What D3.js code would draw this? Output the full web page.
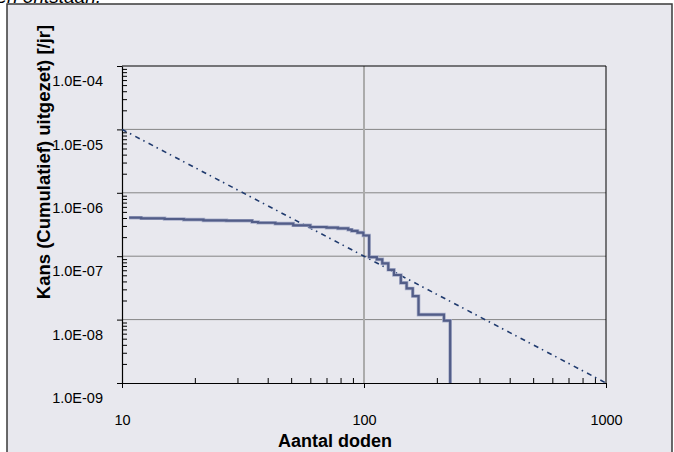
<!DOCTYPE html>
<html>
<head>
<meta charset="utf-8">
<script src="https://cdn.jsdelivr.net/npm/d3@7"></script>
<style>
  html, body { margin: 0; padding: 0; background: #ffffff; }
  svg { display: block; }
  text { font-family: "Liberation Sans", Arial, sans-serif; }
</style>
</head>
<body>
<svg id="chart" width="674" height="452"></svg>
<script>
// ---- data ----
const stepN = [10.7, 12, 15, 18, 21.7, 27, 34.5, 36.5, 43, 51, 60, 70, 78, 86, 89, 94, 99.4, 105, 113, 119, 126, 133, 142, 150, 159, 168, 214, 227];
const stepP = [4.05e-7, 3.96e-7, 3.86e-7, 3.77e-7, 3.68e-7, 3.63e-7, 3.46e-7, 3.37e-7, 3.26e-7, 3.07e-7, 2.89e-7, 2.82e-7, 2.75e-7, 2.62e-7, 2.5e-7, 2.35e-7, 2.12e-7, 9.7e-8, 8.9e-8, 7.7e-8, 6.1e-8, 5.05e-8, 3.8e-8, 3.1e-8, 2.35e-8, 1.2e-8, 9.6e-9, 1e-9];
const normN = [10, 1000];
const normP = [1e-5, 1e-9];
const xTicks = [10, 100, 1000];
const xTickLabels = ["10", "100", "1000"];
const yTicks = [1e-4, 1e-5, 1e-6, 1e-7, 1e-8, 1e-9];
const yTickLabels = ["1.0E-04", "1.0E-05", "1.0E-06", "1.0E-07", "1.0E-08", "1.0E-09"];
const xTitle = "Aantal doden";
const yTitle = "Kans (Cumulatief) uitgezet) [/jr]";
const topText = "kunnen ontstaan.";

// ---- layout ----
const svg = d3.select("#chart");
const L = 122, R = 606, T = 66, B = 383;
const x = d3.scaleLog().domain([10, 1000]).range([L, R]);
const y = d3.scaleLog().domain([1e-9, 1e-4]).range([B, T]);

// frame
svg.append("rect").attr("x", 0).attr("y", 0).attr("width", 674).attr("height", 452).attr("fill", "#ffffff");
svg.append("rect").attr("x", 7).attr("y", 4).attr("width", 665).attr("height", 460)
  .attr("fill", "#e8e8ee").attr("stroke", "#3a3a3a").attr("stroke-width", 1.5);
svg.append("text").attr("x", 101).attr("y", 3).attr("text-anchor", "end")
  .attr("font-size", 19).attr("font-style", "italic").attr("fill", "#000").text(topText);

// gridlines
const gy = yTicks.filter(v => v < 1e-4 && v > 1e-9);
svg.append("g").selectAll("line").data(gy).join("line")
  .attr("x1", L).attr("x2", R).attr("y1", d => y(d)).attr("y2", d => y(d))
  .attr("stroke", "#858585").attr("stroke-width", 1);
svg.append("line").attr("x1", x(100)).attr("x2", x(100)).attr("y1", T).attr("y2", B)
  .attr("stroke", "#ababab").attr("stroke-width", 2);

// plot border (top, right)
svg.append("path").attr("d", `M${L},${T}H${R}V${B}`).attr("fill", "none").attr("stroke", "#000").attr("stroke-width", 1);

// minor ticks
const xMinor = [];
[10, 100].forEach(b => { for (let k = 2; k <= 9; k++) xMinor.push(b * k); });
const yMinor = [];
[1e-9, 1e-8, 1e-7, 1e-6, 1e-5].forEach(b => { for (let k = 2; k <= 9; k++) yMinor.push(b * k); });

const xMinorAxis = d3.axisBottom(x).tickValues(xMinor).tickSize(-5).tickFormat("");
svg.append("g").attr("transform", `translate(0,${B})`).call(xMinorAxis)
  .call(g => g.select(".domain").remove())
  .selectAll("line").attr("stroke", "#000");
const yMinorAxis = d3.axisLeft(y).tickValues(yMinor).tickSize(-5).tickFormat("");
svg.append("g").attr("transform", `translate(${L},0)`).call(yMinorAxis)
  .call(g => g.select(".domain").remove())
  .selectAll("line").attr("stroke", "#000");

// major axes
const xAxis = d3.axisBottom(x).tickValues(xTicks).tickSizeInner(5).tickSizeOuter(0).tickPadding(27)
  .tickFormat((d, i) => xTickLabels[i]);
const gx = svg.append("g").attr("transform", `translate(0,${B})`).call(xAxis);
gx.select(".domain").attr("stroke", "#000").attr("stroke-width", 1.2);
gx.selectAll("line").attr("stroke", "#000");
gx.selectAll("text").attr("font-size", 14.5).attr("fill", "#000").attr("font-family", "Liberation Sans, Arial, sans-serif");

const yAxis = d3.axisLeft(y).tickValues(yTicks).tickSizeInner(5).tickSizeOuter(0).tickPadding(14)
  .tickFormat((d, i) => yTickLabels[i]);
const gyA = svg.append("g").attr("transform", `translate(${L},0)`).call(yAxis);
gyA.select(".domain").attr("stroke", "#000").attr("stroke-width", 1.2);
gyA.selectAll("line").attr("stroke", "#000");
gyA.selectAll("text").attr("font-size", 14.5).attr("fill", "#000").attr("y", 15)
  .attr("font-family", "Liberation Sans, Arial, sans-serif");

// clip
svg.append("clipPath").attr("id", "clip").append("rect").attr("x", L).attr("y", T).attr("width", R - L).attr("height", B - T);

// norm line (dash-dot)
const normData = normN.map((n, i) => [n, normP[i]]);
svg.append("path").datum(normData).attr("clip-path", "url(#clip)")
  .attr("d", d3.line().x(d => x(d[0])).y(d => y(d[1])))
  .attr("fill", "none").attr("stroke", "#1f3a6e").attr("stroke-width", 1.6)
  .attr("stroke-dasharray", "5,4,1.5,4.5");

// step line
const stepData = stepN.map((n, i) => [n, stepP[i]]);
const stepLine = d3.line().curve(d3.curveStepAfter).x(d => x(d[0])).y(d => y(d[1]));
svg.append("path").datum(stepData).attr("clip-path", "url(#clip)")
  .attr("d", stepLine).attr("fill", "none").attr("stroke", "#a9afca").attr("stroke-width", 3.6);
svg.append("path").datum(stepData).attr("clip-path", "url(#clip)")
  .attr("d", stepLine).attr("fill", "none").attr("stroke", "#525d88").attr("stroke-width", 2.2);

// titles
svg.append("text").attr("x", 335).attr("y", 447).attr("text-anchor", "middle")
  .attr("font-size", 18).attr("font-weight", "bold").attr("fill", "#000").text(xTitle);
svg.append("text").attr("transform", "translate(50,162) rotate(-90)").attr("text-anchor", "middle")
  .attr("font-size", 18.5).attr("font-weight", "bold").attr("fill", "#000").text(yTitle);
</script>
</body>
</html>
